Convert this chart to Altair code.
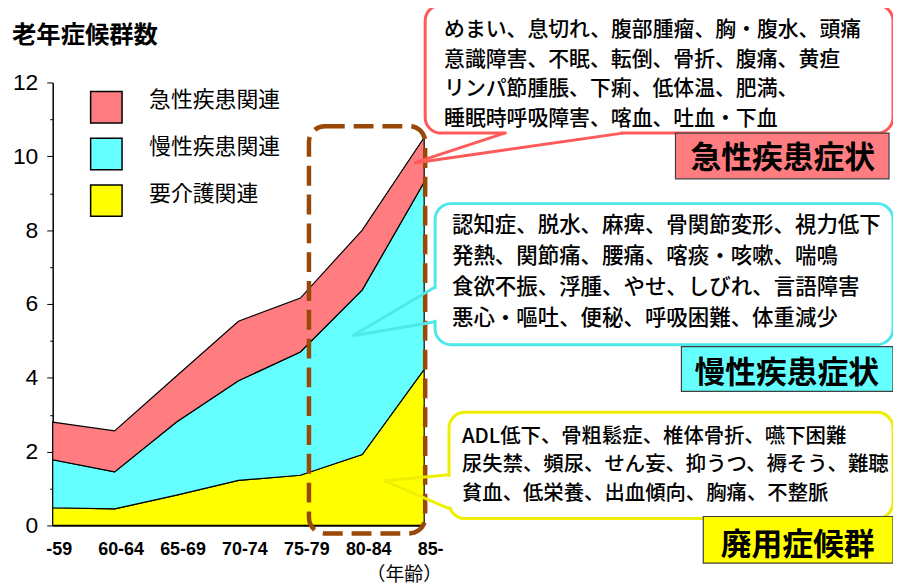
import altair as alt
import pandas as pd

# ---------------- data ----------------
ages = ["-59", "60-64", "65-69", "70-74", "75-79", "80-84", "85-"]
care = [0.48, 0.45, 0.82, 1.22, 1.36, 1.92, 4.23]        # 要介護関連
chronic = [1.30, 1.00, 1.98, 2.70, 3.34, 4.46, 5.07]     # 慢性疾患関連
acute = [1.02, 1.11, 1.25, 1.61, 1.46, 1.62, 1.21]       # 急性疾患関連

series_names = ["急性疾患関連", "慢性疾患関連", "要介護関連"]
series_colors = ["#FF7C80", "#66FFFF", "#FFFF00"]
stack_rank = {"要介護関連": 0, "慢性疾患関連": 1, "急性疾患関連": 2}
y_ticks = list(range(0, 13))

title_text = "老年症候群数"
x_unit_text = "（年齢）"

acute_lines = [
    "めまい、息切れ、腹部腫瘤、胸・腹水、頭痛",
    "意識障害、不眠、転倒、骨折、腹痛、黄疸",
    "リンパ節腫脹、下痢、低体温、肥満、",
    "睡眠時呼吸障害、喀血、吐血・下血",
]
chronic_lines = [
    "認知症、脱水、麻痺、骨関節変形、視力低下",
    "発熱、関節痛、腰痛、喀痰・咳嗽、喘鳴",
    "食欲不振、浮腫、やせ、しびれ、言語障害",
    "悪心・嘔吐、便秘、呼吸困難、体重減少",
]
care_lines = [
    "ADL低下、骨粗鬆症、椎体骨折、嚥下困難",
    "尿失禁、頻尿、せん妄、抑うつ、褥そう、難聴",
    "貧血、低栄養、出血傾向、胸痛、不整脈",
]
acute_label = "急性疾患症状"
chronic_label = "慢性疾患症状"
care_label = "廃用症候群"

# ---------------- table ----------------
rows = []
for name, vals in [("要介護関連", care), ("慢性疾患関連", chronic), ("急性疾患関連", acute)]:
    for a, v in zip(ages, vals):
        rows.append({"age": a, "series": name, "value": v, "rank": stack_rank[name]})
df = pd.DataFrame(rows)

JP = "Noto Sans CJK JP"
LAT = "Liberation Sans"

areas = alt.Chart(df).mark_area(
    stroke="black", strokeWidth=1.2, opacity=1
).encode(
    x=alt.X(
        "age:N", sort=ages,
        scale=alt.Scale(type="point", padding=0),
        axis=alt.Axis(
            title=None, labelAngle=0, labelFont=LAT, labelFontSize=18,
            labelFontWeight="bold", labelColor="black", ticks=False, tickSize=0,
            domainColor="black", domainWidth=1.5, labelPadding=15, labelOffset=6,
            labelOverlap=False,
        ),
    ),
    y=alt.Y(
        "value:Q", stack="zero",
        scale=alt.Scale(domain=[0, 12], nice=False),
        axis=alt.Axis(
            title=None, values=y_ticks, grid=False,
            labelExpr="datum.value % 2 == 0 ? datum.label : ''",
            tickSize={"condition": {"test": "datum.value % 2 == 0", "value": 6}, "value": 3},
            tickColor="black", domainColor="black", domainWidth=1.5,
            labelFont=LAT, labelFontSize=23, labelColor="black", labelPadding=9,
        ),
    ),
    color=alt.Color(
        "series:N",
        scale=alt.Scale(domain=series_names, range=series_colors),
        legend=alt.Legend(
            title=None, orient="none", legendX=37, legendY=8, padding=0,
            symbolType="square", symbolSize=1000, symbolStrokeColor="black",
            symbolStrokeWidth=1.5, symbolOpacity=1,
            labelFont=JP, labelFontSize=22, labelColor="black",
            labelOffset=26, rowPadding=9, labelBaseline="alphabetic",
        ),
    ),
    order=alt.Order("rank:Q", sort="ascending"),
)

one = alt.Data(values=[{"k": 0}])


def box(x, x2, y, y2, fill, stroke, sw, r=0, dash=None, fill_opacity=1):
    kw = dict(fill=fill, stroke=stroke, strokeWidth=sw, fillOpacity=fill_opacity)
    if r:
        kw["cornerRadius"] = r
    if dash:
        kw["strokeDash"] = dash
    return alt.Chart(one).mark_rect(**kw).encode(
        x=alt.value(x), x2=alt.value(x2), y=alt.value(y), y2=alt.value(y2)
    )


def seg(x, y, x2, y2, color, sw):
    return alt.Chart(one).mark_rule(stroke=color, strokeWidth=sw).encode(
        x=alt.value(x), y=alt.value(y), x2=alt.value(x2), y2=alt.value(y2)
    )


def txt(lines, x, y, size, weight="normal", align="left", lh=30, font=JP):
    return alt.Chart(one).mark_text(
        align=align, baseline="alphabetic", font=font, fontSize=size,
        fontWeight=weight, color="black", lineHeight=lh,
    ).encode(x=alt.value(x), y=alt.value(y), text=alt.value(lines))


RED_B = "#FF5A5A"
CYAN_B = "#4EE8E8"
YEL_B = "#EEEE00"
BROWN = "#984807"

layers = [
    areas,
    # dashed highlight around 75-85
    box(258, 375, 44, 454, "white", BROWN, 4.5, r=16, dash=[20, 9], fill_opacity=0),
    # acute callout
    box(375, 846, -78, 51, "white", RED_B, 3, r=16),
    seg(457, 51, 572, 51, "white", 5),
    seg(455, 51, 364, 81, RED_B, 3),
    seg(574, 51, 364, 81, RED_B, 3),
    txt(acute_lines, 394, -47, 21, weight=500, lh=30),
    box(627, 842, 51, 97, series_colors[0], "#404040", 1.2),
    txt(acute_label, 735, 86, 31, weight="bold", align="center"),
    # chronic callout
    box(385, 846, 122, 264, "white", CYAN_B, 3, r=16),
    seg(385, 208, 385, 239, "white", 5),
    seg(385, 206, 302, 255, CYAN_B, 3),
    seg(385, 241, 302, 255, CYAN_B, 3),
    txt(chronic_lines, 402, 151, 21.6, weight=500, lh=31),
    box(633, 846, 266, 311, series_colors[1], "#404040", 1.2),
    txt(chronic_label, 739, 303, 31, weight="bold", align="center"),
    # care callout
    box(399, 846, 332, 439, "white", YEL_B, 3, r=16),
    seg(399, 397, 399, 427, "white", 5),
    seg(399, 395, 334, 401, YEL_B, 3),
    seg(399, 429, 334, 401, YEL_B, 3),
    txt(care_lines, 412, 363, 20.5, weight=500, lh=28.5),
    box(655, 846, 437, 484, series_colors[2], "#404040", 1.2),
    txt(care_label, 750, 476, 31, weight="bold", align="center"),
    # titles
    txt(title_text, -41, -40, 24.5, weight="bold"),
    txt(x_unit_text, 354, 502, 19, align="center"),
]

chart = alt.layer(*layers).properties(
    width=374,
    height=446,
    padding={"left": 45, "top": 73, "right": 472, "bottom": 58},
    autosize=alt.AutoSizeParams(type="none"),
    background="white",
).configure_view(stroke=None)

chart.save("out.html", embed_options={"renderer": "svg", "actions": False})
